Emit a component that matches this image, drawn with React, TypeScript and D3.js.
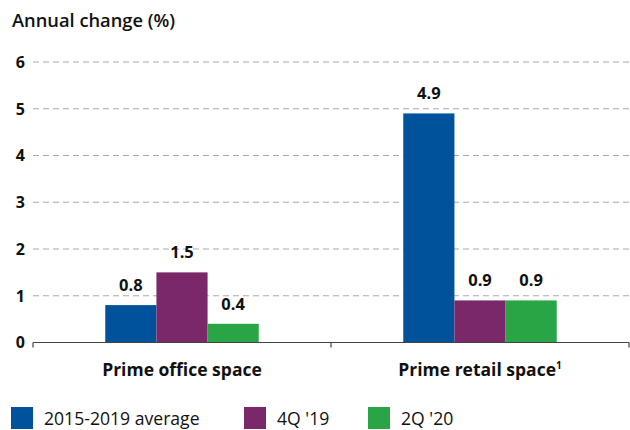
import React from "react";
import * as d3 from "d3";

const categories = ["Prime office space", "Prime retail space"];
const seriesNames = ["2015-2019 average", "4Q '19", "2Q '20"];
const avg20152019 = [0.8, 4.9];
const q4_19 = [1.5, 0.9];
const q2_20 = [0.4, 0.9];
const yTicks = [0, 1, 2, 3, 4, 5, 6];
const colors = ["#00529b", "#7a2869", "#29a545"];

const W = 630;
const H = 430;
const left = 33;
const right = 629;
const top = 62;
const bottom = 342.5;
const FONT = "'Open Sans', sans-serif";

export default function App() {
  const series = [avg20152019, q4_19, q2_20];
  const y = d3.scaleLinear().domain([0, 6]).range([bottom, top]);
  const x0 = d3.scaleBand<string>().domain(categories).range([left, right]).paddingInner(0).paddingOuter(0);
  const groupW = x0.bandwidth() * 0.515;
  const x1 = d3.scaleBand<string>().domain(seriesNames).range([0, groupW]).padding(0);
  const legendX = [11, 244, 368];

  return (
    <svg width={W} height={H} style={{ position: "absolute", left: 0, top: 0 }} fontFamily={FONT}>
      <text x={12} y={27} fontSize={18.3} fontWeight={600} fill="#111">Annual change (%)</text>
      {yTicks.map((t) => (
        <g key={t}>
          {t > 0 && (
            <line x1={left} x2={right} y1={y(t)} y2={y(t)} stroke="#aaa" strokeWidth={1.2} strokeDasharray="6 4" />
          )}
          <text x={25} y={y(t)} dy="0.36em" textAnchor="end" fontSize={16} fontWeight={700} fill="#111">{t}</text>
        </g>
      ))}
      {categories.map((c, ci) => {
        const gx = (x0(c) as number) + (x0.bandwidth() - groupW) / 2;
        return (
          <g key={c}>
            {seriesNames.map((s, si) => {
              const v = series[si][ci];
              const bx = gx + (x1(s) as number);
              return (
                <g key={s}>
                  <rect x={bx} y={y(v)} width={x1.bandwidth()} height={bottom - y(v)} fill={colors[si]} />
                  <text x={bx + x1.bandwidth() / 2} y={y(v) - 14} textAnchor="middle" fontSize={16.5} fontWeight={700} fill="#111">{v.toFixed(1)}</text>
                </g>
              );
            })}
            <text x={(x0(c) as number) + x0.bandwidth() / 2} y={376} textAnchor="middle" fontSize={17.5} fontWeight={700} fill="#111">
              {c}
              {ci === 1 && <tspan fontSize={10} dy={-7}>1</tspan>}
            </text>
          </g>
        );
      })}
      <line x1={left} x2={right} y1={bottom} y2={bottom} stroke="#444" strokeWidth={1.2} />
      {[left, left + x0.bandwidth(), right].map((tx, i) => (
        <line key={i} x1={tx} x2={tx} y1={bottom} y2={bottom + 5} stroke="#444" strokeWidth={1.2} />
      ))}
      {seriesNames.map((s, i) => (
        <g key={s}>
          <rect x={legendX[i]} y={407} width={22} height={22} fill={colors[i]} />
          <text x={legendX[i] + 33} y={425} fontSize={17.6} fill="#111">{s}</text>
        </g>
      ))}
    </svg>
  );
}
